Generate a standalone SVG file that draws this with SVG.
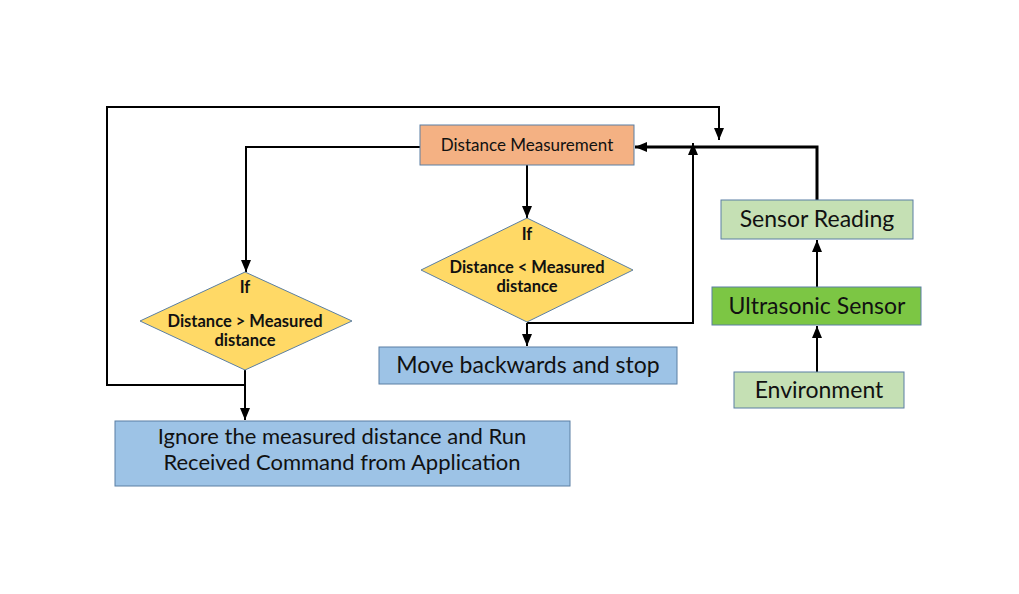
<svg xmlns="http://www.w3.org/2000/svg" width="1019" height="594" viewBox="0 0 1019 594">
<style>
.box{stroke:#5b7fa3;stroke-width:1}
.t{font-family:Lato,"Open Sans",sans-serif;fill:#111;text-anchor:middle}
.b{font-weight:bold;font-size:16.5px}
.big{font-size:23px}
.c{fill:none;stroke:#000;stroke-width:2}
.thick{stroke-width:3}
</style>
<defs>
<marker id="ah" viewBox="0 0 12 10" refX="12" refY="5" markerWidth="12" markerHeight="10" orient="auto" markerUnits="userSpaceOnUse">
<path d="M0,0 L12,5 L0,10 z" fill="#000"/>
</marker>
</defs>
<rect width="1019" height="594" fill="#fff"/>
<g id="connectors">
<path class="c" d="M245,385 H107 V107 H719 V140" marker-end="url(#ah)"/>
<path class="c" d="M420,147 H246 V272" marker-end="url(#ah)"/>
<path class="c" d="M245,370 V420" marker-end="url(#ah)"/>
<path class="c" d="M527,165 V218" marker-end="url(#ah)"/>
<path class="c" d="M527,323 V346" marker-end="url(#ah)"/>
<path class="c" d="M527,323 H693 V143" marker-end="url(#ah)"/>
<path class="c thick" d="M817,200 V147 H635" marker-end="url(#ah)"/>
<path class="c" d="M817,287 V240" marker-end="url(#ah)"/>
<path class="c" d="M817,372 V326" marker-end="url(#ah)"/>
</g>
<g id="dm">
<rect class="box" x="420" y="125" width="214" height="40" fill="#F4B183"/>
<text class="t" x="527" y="151" font-size="17">Distance Measurement</text>
</g>
<g id="d1">
<polygon class="box" points="245,272 352,321 245,370 140,321" fill="#FFD966" stroke="#b89a3a"/>
<text class="t b" x="245" y="293">If</text>
<text class="t b" x="245" y="327">Distance &gt; Measured</text>
<text class="t b" x="245" y="346">distance</text>
</g>
<g id="d2">
<polygon class="box" points="527,218 633,270 527,322 421,270" fill="#FFD966" stroke="#b89a3a"/>
<text class="t b" x="527" y="240">If</text>
<text class="t b" x="527" y="273">Distance &lt; Measured</text>
<text class="t b" x="527" y="292">distance</text>
</g>
<g id="ignore">
<rect class="box" x="115" y="421" width="455" height="65" fill="#9DC3E6"/>
<text class="t" x="342" y="444" font-size="22">Ignore the measured distance and Run</text>
<text class="t" x="342" y="470" font-size="22">Received Command from Application</text>
</g>
<g id="move">
<rect class="box" x="379" y="347" width="298" height="37" fill="#9DC3E6"/>
<text class="t big" x="528" y="373">Move backwards and stop</text>
</g>
<g id="sr">
<rect class="box" x="721" y="200" width="192" height="39" fill="#C5E0B4"/>
<text class="t big" x="817" y="227">Sensor Reading</text>
</g>
<g id="us">
<rect class="box" x="712" y="287" width="209" height="38" fill="#7CC644"/>
<text class="t big" x="817" y="314">Ultrasonic Sensor</text>
</g>
<g id="env">
<rect class="box" x="734" y="372" width="170" height="36" fill="#C5E0B4"/>
<text class="t big" x="819" y="398">Environment</text>
</g>
</svg>
